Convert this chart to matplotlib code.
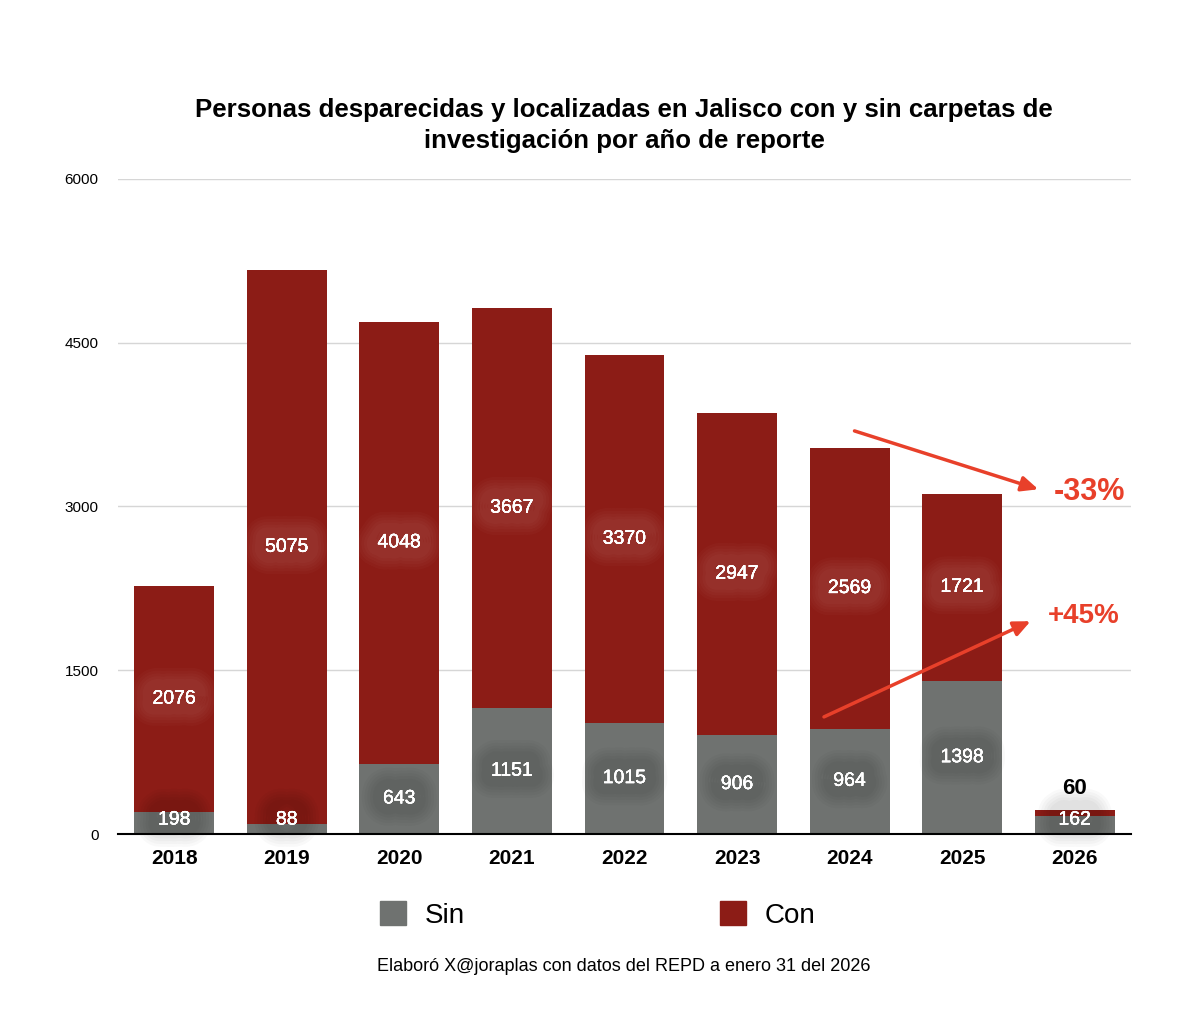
import matplotlib
matplotlib.use("Agg")
import matplotlib.pyplot as plt
import matplotlib.patheffects as pe
from matplotlib.patches import Patch
import numpy as np

plt.rcParams["font.family"] = ["Liberation Sans", "DejaVu Sans"]

years = ["2018", "2019", "2020", "2021", "2022", "2023", "2024", "2025", "2026"]
sin = [198, 88, 643, 1151, 1015, 906, 964, 1398, 162]
con = [2076, 5075, 4048, 3667, 3370, 2947, 2569, 1721, 60]

titulo = ("Personas desparecidas y localizadas en Jalisco con y sin carpetas de\n"
          "investigación por año de reporte")
nota = "Elaboró X@joraplas con datos del REPD a enero 31 del 2026"

c_sin = "#6f7270"
c_con = "#8c1c16"
c_flecha = "#e8402a"


def glow(color, alpha):
    # halo suave alrededor del número
    efectos = [pe.withStroke(linewidth=w, foreground=color, alpha=alpha)
               for w in (32, 28, 24, 20, 16)]
    return efectos + [pe.Normal()]


fig = plt.figure(figsize=(12, 10.13), dpi=100)
ax = fig.add_axes([0.0983, 0.1767, 0.8442, 0.6466])

x = np.arange(len(years))
ax.bar(x, sin, width=0.71, color=c_sin, zorder=2)
ax.bar(x, con, width=0.71, bottom=sin, color=c_con, zorder=2)

for i in range(len(years)):
    ax.text(x[i], max(sin[i] / 2, 128), str(sin[i]), ha="center", va="center",
            color="white", fontsize=14, zorder=4,
            path_effects=glow("black", 0.025))
    if con[i] > 300:
        ax.text(x[i], sin[i] + con[i] / 2, str(con[i]), ha="center",
                va="center", color="white", fontsize=14, zorder=4,
                path_effects=glow("white", 0.018))
    else:
        ax.text(x[i], sin[i] + con[i] + 100, str(con[i]), ha="center",
                va="bottom", color="black", fontsize=16, fontweight="bold",
                zorder=4)

ax.set_xlim(-0.5, len(years) - 0.5)
ax.set_ylim(0, 6000)
ax.set_yticks([0, 1500, 3000, 4500, 6000])
ax.set_xticks(x)
ax.set_xticklabels(years, fontsize=15, fontweight="bold")
ax.tick_params(axis="y", length=0, labelsize=11, pad=14)
ax.tick_params(axis="x", length=0, pad=11)
ax.grid(axis="y", color="#d6d6d6", linewidth=1, zorder=0)
for s in ["top", "right", "left"]:
    ax.spines[s].set_visible(False)
ax.spines["bottom"].set_linewidth(1.5)
ax.spines["bottom"].set_zorder(5)

# flechas de cambio 2024 -> 2025
ax.annotate("", xy=(7.70, 3150), xytext=(6.02, 3700),
            arrowprops=dict(arrowstyle="-|>,head_length=1.0,head_width=0.45",
                            color=c_flecha, lw=2.5), zorder=6)
ax.text(7.81, 3130, "-33%", color=c_flecha, fontsize=22, fontweight="bold",
        ha="left", va="center")
ax.annotate("", xy=(7.63, 1960), xytext=(5.75, 1062),
            arrowprops=dict(arrowstyle="-|>,head_length=1.0,head_width=0.45",
                            color=c_flecha, lw=2.5), zorder=6)
ax.text(7.76, 2000, "+45%", color=c_flecha, fontsize=20, fontweight="bold",
        ha="left", va="center")

fig.text(0.52, 0.876, titulo, ha="center", va="center", fontsize=18.6,
         fontweight="bold", linespacing=1.4)

handles = [Patch(color=c_sin, label="Sin"), Patch(color=c_con, label="Con")]
fig.legend(handles=handles, loc="center", bbox_to_anchor=(0.498, 0.0967),
           ncol=2, frameon=False, fontsize=20, handlelength=0.95,
           handleheight=0.95, handletextpad=0.65, columnspacing=9.2)

fig.text(0.52, 0.046, nota, ha="center", va="center", fontsize=13)

fig.savefig("out.png", dpi=100)
